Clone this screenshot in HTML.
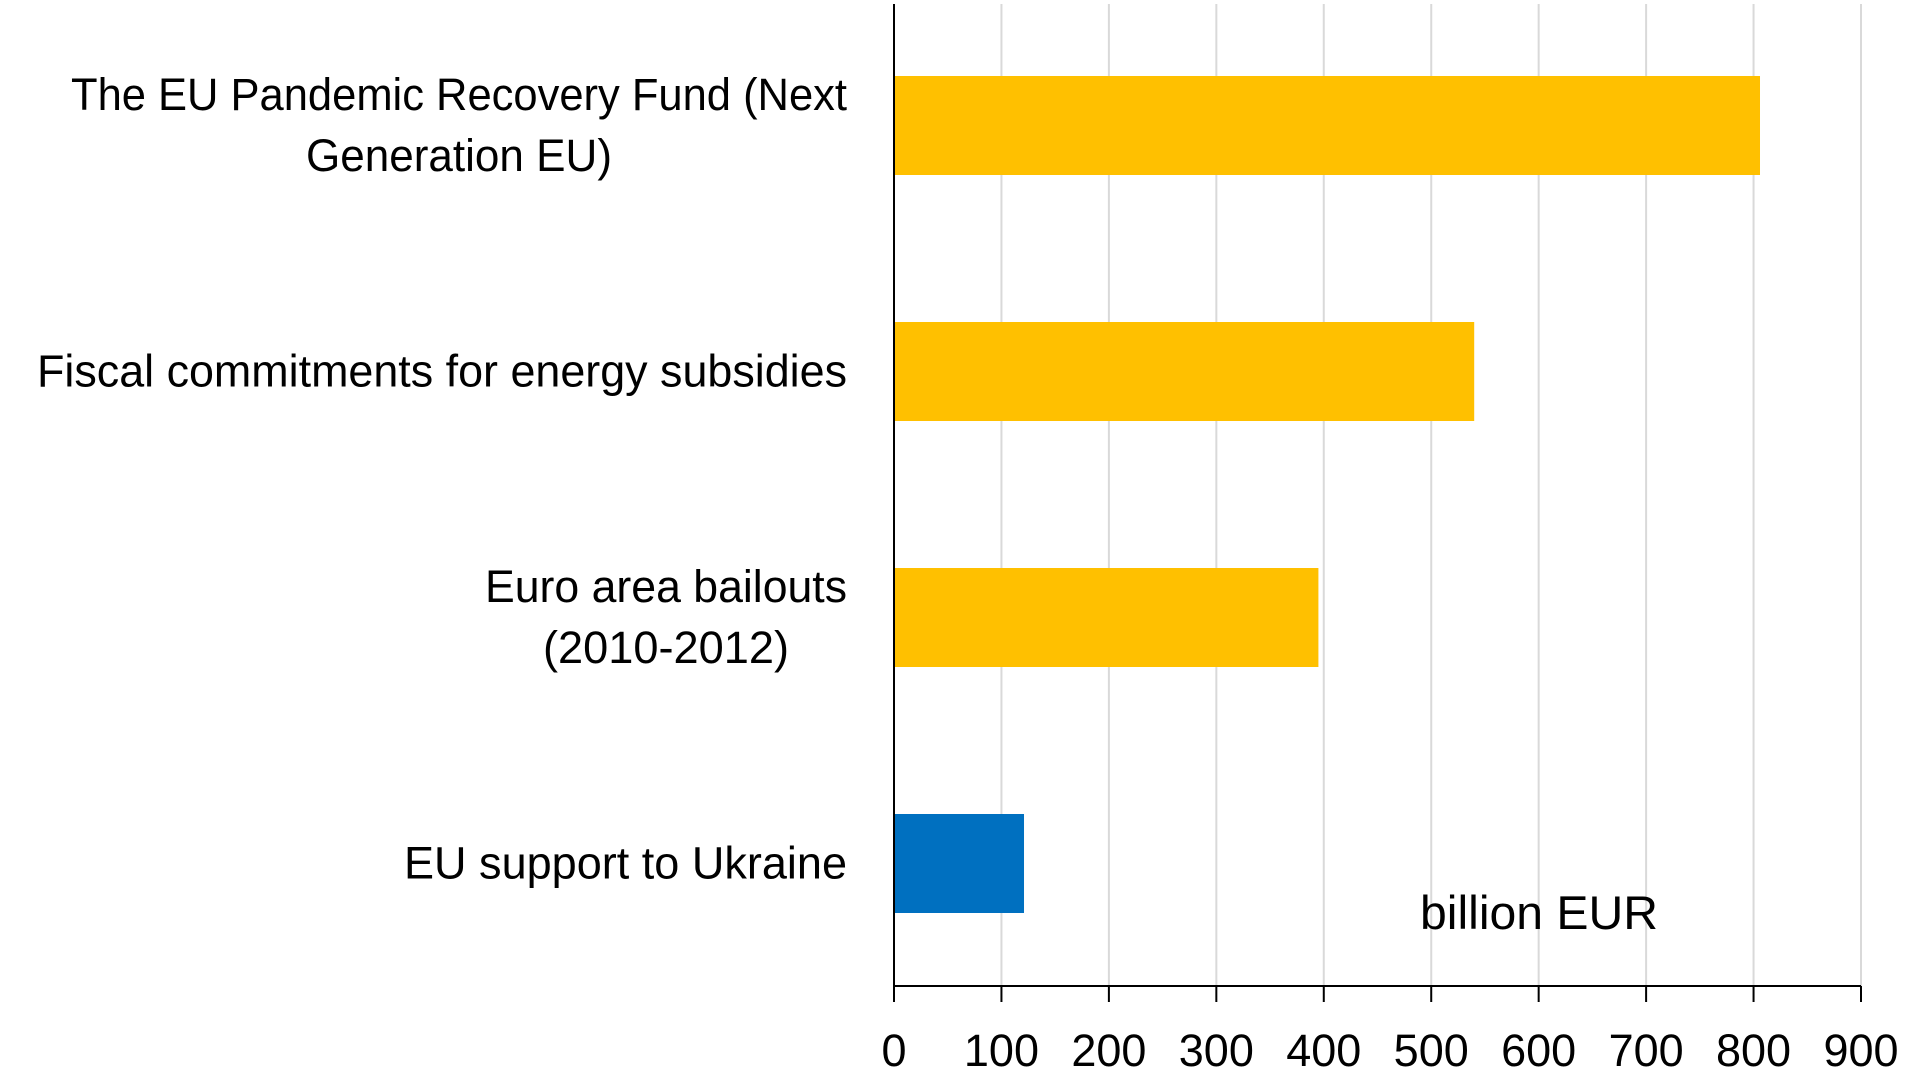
<!DOCTYPE html>
<html><head><meta charset="utf-8"><style>
html,body{margin:0;padding:0;background:#fff}
svg{display:block}
text{font-family:"Liberation Sans",sans-serif;fill:#000}
</style></head><body>
<svg id="chart" width="1920" height="1089"></svg>
<script>
const categories = [
  ["The EU Pandemic Recovery Fund (Next","Generation EU)"],
  ["Fiscal commitments for energy subsidies"],
  ["Euro area bailouts","(2010-2012)"],
  ["EU support to Ukraine"]
];
const values = [806, 540, 395, 121];
const barColors = ["#FFC000","#FFC000","#FFC000","#0070C0"];
const ticks = [0,100,200,300,400,500,600,700,800,900];
const unitLabel = "billion EUR";
const labelWidths = [[776,306],[810],[362,246],[443]];

const NS="http://www.w3.org/2000/svg";
const svg=document.getElementById('chart');
const X0=894, X1=1861, AXY=986, TOP=4;
const xs=v=>X0+(v/900)*(X1-X0);
const band=246, bandTop=76-73.5, barH=99;
const yc=i=>bandTop+band*i+band/2;
function el(t,a){const e=document.createElementNS(NS,t);for(const k in a)e.setAttribute(k,a[k]);svg.appendChild(e);return e;}

ticks.forEach(t=>{
  if(t>0){
    const g=el('line',{x1:xs(t),x2:xs(t),y1:TOP,y2:AXY,stroke:'#d9d9d9','stroke-width':2});
    
    
  }
  const tk=el('line',{x1:xs(t),x2:xs(t),y1:AXY,y2:AXY+16,stroke:'#000','stroke-width':2});
  
  
  const lb=el('text',{x:xs(t),y:1066,'text-anchor':'middle','font-size':45});
  lb.textContent=t;
  
  
});

values.forEach((v,i)=>{
  const r=el('rect',{x:X0,y:yc(i)-barH/2,width:xs(v)-X0,height:barH,fill:barColors[i]});
  
  
  const lines=categories[i];
  const cx = lines.length>1 ? (i===0?459:666) : 847;
  const anchor = lines.length>1 ? 'middle' : 'end';
  lines.forEach((ln,j)=>{
    const y=yc(i)+(j-(lines.length-1)/2)*61+15;
    const a={x:cx,y:y,'text-anchor':anchor,'font-size':45,textLength:labelWidths[i][j],lengthAdjust:'spacingAndGlyphs'};
    const t=el('text',a);
    t.textContent=ln;
    
    
  });
});

const yax=el('line',{x1:X0,x2:X0,y1:TOP,y2:AXY,stroke:'#000','stroke-width':2});


const xax=el('line',{x1:X0,x2:X1,y1:AXY,y2:AXY,stroke:'#000','stroke-width':2});



const u=el('text',{x:1539,y:929,'text-anchor':'middle','font-size':47,textLength:238,lengthAdjust:'spacingAndGlyphs'});
u.textContent=unitLabel;


</script>
</body></html>
